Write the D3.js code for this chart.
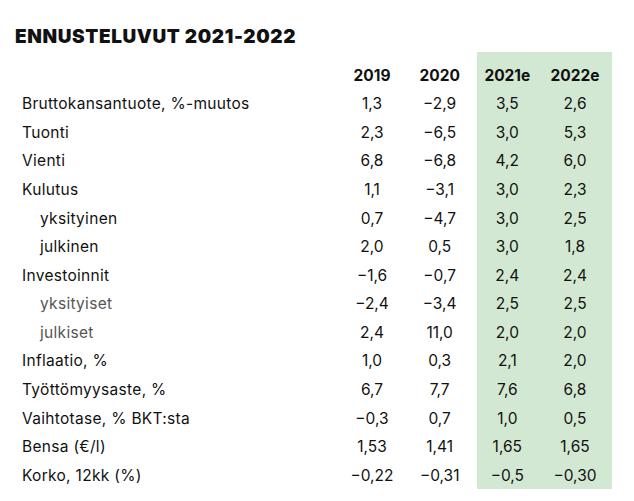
<!DOCTYPE html><html><head><meta charset="utf-8">
<script src="https://cdn.jsdelivr.net/npm/d3@7"></script>
<style>body{margin:0;background:#fff}</style></head><body>
<script>
const title = "ENNUSTELUVUT 2021-2022";
const years = ["2019","2020","2021e","2022e"];
const rows = ["Bruttokansantuote, %-muutos","Tuonti","Vienti","Kulutus","yksityinen","julkinen","Investoinnit","yksityiset","julkiset","Inflaatio, %","Työttömyysaste, %","Vaihtotase, % BKT:sta","Bensa (€/l)","Korko, 12kk (%)"];
const indent = [0,0,0,0,1,1,0,1,1,0,0,0,0,0];
const v2019 = ["1,3","2,3","6,8","1,1","0,7","2,0","-1,6","-2,4","2,4","1,0","6,7","-0,3","1,53","-0,22"];
const v2020 = ["-2,9","-6,5","-6,8","-3,1","-4,7","0,5","-0,7","-3,4","11,0","0,3","7,7","0,7","1,41","-0,31"];
const v2021 = ["3,5","3,0","4,2","3,0","3,0","3,0","2,4","2,5","2,0","2,1","7,6","1,0","1,65","-0,5"];
const v2022 = ["2,6","5,3","6,0","2,3","2,5","1,8","2,4","2,5","2,0","2,0","6,8","0,5","1,65","-0,30"];
const cols = [v2019,v2020,v2021,v2022];
const W=634,H=501;
const svg=d3.select("body").append("svg").attr("width",W).attr("height",H).style("font-family","Inter, 'Open Sans', sans-serif");
const x=d3.scalePoint().domain(years).range([372,575]);
const y=d3.scaleBand().domain(d3.range(rows.length)).range([90,490]);
svg.append("rect").attr("x",477).attr("y",52).attr("width",135).attr("height",437).attr("fill","#d3e8d2");
svg.append("text").attr("x",15).attr("y",43).text(title).attr("font-size",19).attr("letter-spacing",0.6).attr("font-weight",900).attr("fill","#111");
svg.selectAll(".yr").data(years).join("text").attr("x",d=>x(d)).attr("y",81).attr("text-anchor","middle").attr("font-size",15.5).attr("font-weight",700).attr("fill","#111").text(d=>d);
svg.selectAll(".lab").data(rows).join("text").attr("x",(d,i)=>indent[i]?40:22).attr("y",(d,i)=>y(i)+y.bandwidth()/2+5).attr("font-size",15.5).attr("letter-spacing",0.3).attr("fill",(d,i)=>(i==7||i==8)?"#555":"#111").text(d=>d);
cols.forEach((c,j)=>{
  svg.selectAll(".c"+j).data(c).join("text").attr("x",x(years[j])).attr("y",(d,i)=>y(i)+y.bandwidth()/2+5).attr("text-anchor","middle").attr("font-size",15.5).attr("fill","#111").text(d=>d.replace("-","−"));
});
</script></body></html>
